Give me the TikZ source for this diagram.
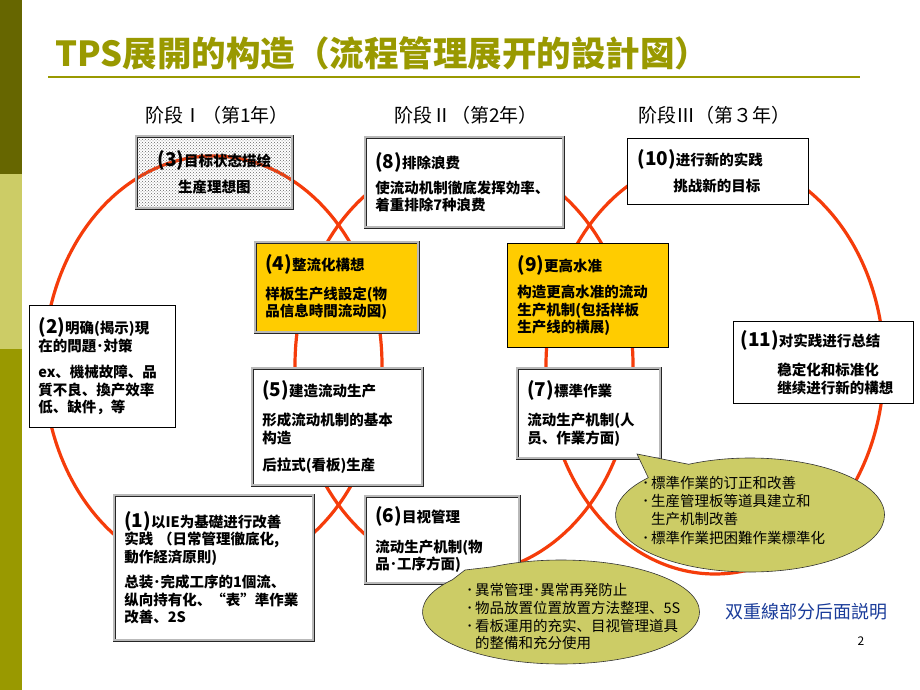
\documentclass[tikz,border=0pt]{standalone}
\usepackage{fontspec}
\setmainfont{Noto Sans CJK SC}
\usetikzlibrary{shapes.callouts, patterns}

\definecolor{sidedark}{HTML}{666600}
\definecolor{sidelight}{HTML}{CCCC66}
\definecolor{sidemid}{HTML}{999900}
\definecolor{titleolive}{HTML}{999900}
\definecolor{ringred}{HTML}{F53C0A}
\definecolor{boxgold}{HTML}{FFCC00}
\definecolor{bubbleolive}{HTML}{CCCC66}
\definecolor{noteblue}{HTML}{1A3C9A}

\newcommand{\bnum}[1]{{\fontsize{19}{17.5}\selectfont(#1)}}
\newcommand{\dotitem}{\makebox[9pt][l]{･}}

\begin{document}
\begin{tikzpicture}[x=1pt, y=-1pt,
  ring/.style={draw=ringred, line width=3.2pt},
  sbox/.style={draw=black, line width=0.8pt, fill=white, anchor=north west,
    inner xsep=10pt, inner ysep=2pt, align=left,
    font=\fontsize{14.5}{17.5}\selectfont\bfseries},
  dbox/.style={sbox, draw=black!85, double=gray!55, double distance=1.8pt, line width=0.7pt},
  bubble/.style={ellipse callout, draw=black!80, line width=0.6pt, fill=bubbleolive,
    callout pointer arc=22},
  btext/.style={anchor=north west, align=left, inner sep=0pt,
    font=\fontsize{14.5}{18.2}\selectfont},
  stage/.style={font=\fontsize{19}{19}\selectfont}]

% page and side bar
\useasboundingbox (0,0) rectangle (920,690);
\fill[white] (0,0) rectangle (920,690);
\fill[sidedark] (0,0) rectangle (22,174);
\fill[sidelight] (0,174) rectangle (22,349);
\fill[sidemid] (0,349) rectangle (22,690);

% title
\node[anchor=base west, inner sep=0pt, text=titleolive,
  font=\fontsize{34.5}{34}\selectfont\bfseries] (title) at (55,67)
  {TPS展開的构造（流程管理展开的設計図）};
\draw[titleolive, line width=2pt] (48,77) -- (860,77);

% stages
\node[stage] (st1) at (217,115) {阶段Ⅰ（第1年）};
\node[stage] (st2) at (466,115) {阶段Ⅱ（第2年）};
\node[stage] (st3) at (714,115) {阶段Ⅲ（第３年）};

% three rings
\draw[ring] (213,365) ellipse [x radius=169, y radius=209];
\draw[ring] (464,365) ellipse [x radius=169, y radius=209];
\draw[ring] (715,365) ellipse [x radius=169, y radius=209];

% stage I boxes
\node[dbox, align=center, pattern=crosshatch dots, pattern color=black!60,
  minimum width=156pt, minimum height=72pt, text width=136pt] (b3) at (136,136)
  {\bnum{3}目标状态描绘\\[9pt]生産理想图};
\node[sbox, inner xsep=9pt, minimum width=146pt, minimum height=122pt, text width=128pt] (b2) at (29,305)
  {\bnum{2}明确(揭示)現\\在的問題･対策\\[9pt]ex、機械故障、品\\質不良、換产效率\\低、缺件，等};
\node[dbox, minimum width=199pt, minimum height=145pt, text width=179pt] (b1) at (114,495)
  {\bnum{1}以IE为基礎进行改善\\实践 （日常管理徹底化,\\動作経済原則)\\[8pt]总装･完成工序的1個流、\\纵向持有化、“表”準作業\\改善、2S};

% stage II boxes
\node[dbox, minimum width=198pt, minimum height=90pt, text width=178pt] (b8) at (365,137)
  {\bnum{8}排除浪费\\[7pt]使流动机制徹底发挥効率、\\着重排除7种浪费};
\node[dbox, fill=boxgold, minimum width=163pt, minimum height=90pt, text width=143pt] (b4) at (255,242)
  {\bnum{4}整流化構想\\[11pt]样板生产线設定(物\\品信息時間流动図)};
\node[dbox, minimum width=170pt, minimum height=117pt, text width=150pt] (b5) at (252,368)
  {\bnum{5}建造流动生产\\[12pt]形成流动机制的基本\\构造\\[10pt]后拉式(看板)生産};
\node[dbox, minimum width=154pt, minimum height=87pt, text width=134pt] (b6) at (365,496)
  {\bnum{6}目视管理\\[12pt]流动生产机制(物\\品･工序方面)};

% stage III boxes
\node[sbox, minimum width=181pt, minimum height=66pt, text width=161pt] (b10) at (627,138)
  {\bnum{10}进行新的实践\\[9pt]\hspace*{36pt}挑战新的目标};
\node[sbox, fill=boxgold, minimum width=161pt, minimum height=104pt, text width=141pt] (b9) at (507,243)
  {\bnum{9}更高水准\\[9pt]构造更高水准的流动\\生产机制(包括样板\\生产线的横展)};
\node[dbox, minimum width=143pt, minimum height=90pt, text width=123pt] (b7) at (517,368)
  {\bnum{7}標準作業\\[12pt]流动生产机制(人\\员、作業方面)};
\node[sbox, inner xsep=7pt, minimum width=180pt, minimum height=82pt, text width=166pt] (b11) at (733,321)
  {\bnum{11}对实践进行总结\\[12pt]\hspace*{37pt}稳定化和标准化\\\hspace*{37pt}继续进行新的構想};

% callouts
\coordinate (tip7) at (637,454);
\coordinate (tip6) at (465,570);
\node[bubble, minimum width=269pt, minimum height=114pt, callout absolute pointer={(tip7)}] (call7) at (750,515) {};
\node[btext] (txt7) at (642,476)
  {\dotitem 標準作業的订正和改善\\\dotitem 生産管理板等道具建立和\\\hspace*{9pt}生产机制改善\\\dotitem 標準作業把困難作業標準化};
\node[bubble, minimum width=277pt, minimum height=104pt, callout absolute pointer={(tip6)}] (call6) at (561,612) {};
\node[btext, font=\fontsize{14.5}{17.8}\selectfont] (txt6) at (466,583)
  {\dotitem 異常管理･異常再発防止\\\dotitem 物品放置位置放置方法整理、5S\\\dotitem 看板運用的充实、目视管理道具\\\hspace*{9pt}的整備和充分使用};

% note and page number
\node[text=noteblue, font=\fontsize{18}{18}\selectfont] (note) at (806,612) {双重線部分后面説明};
\node[font=\fontsize{12}{12}\selectfont] (pagenum) at (861,641) {2};

\end{tikzpicture}
\end{document}
